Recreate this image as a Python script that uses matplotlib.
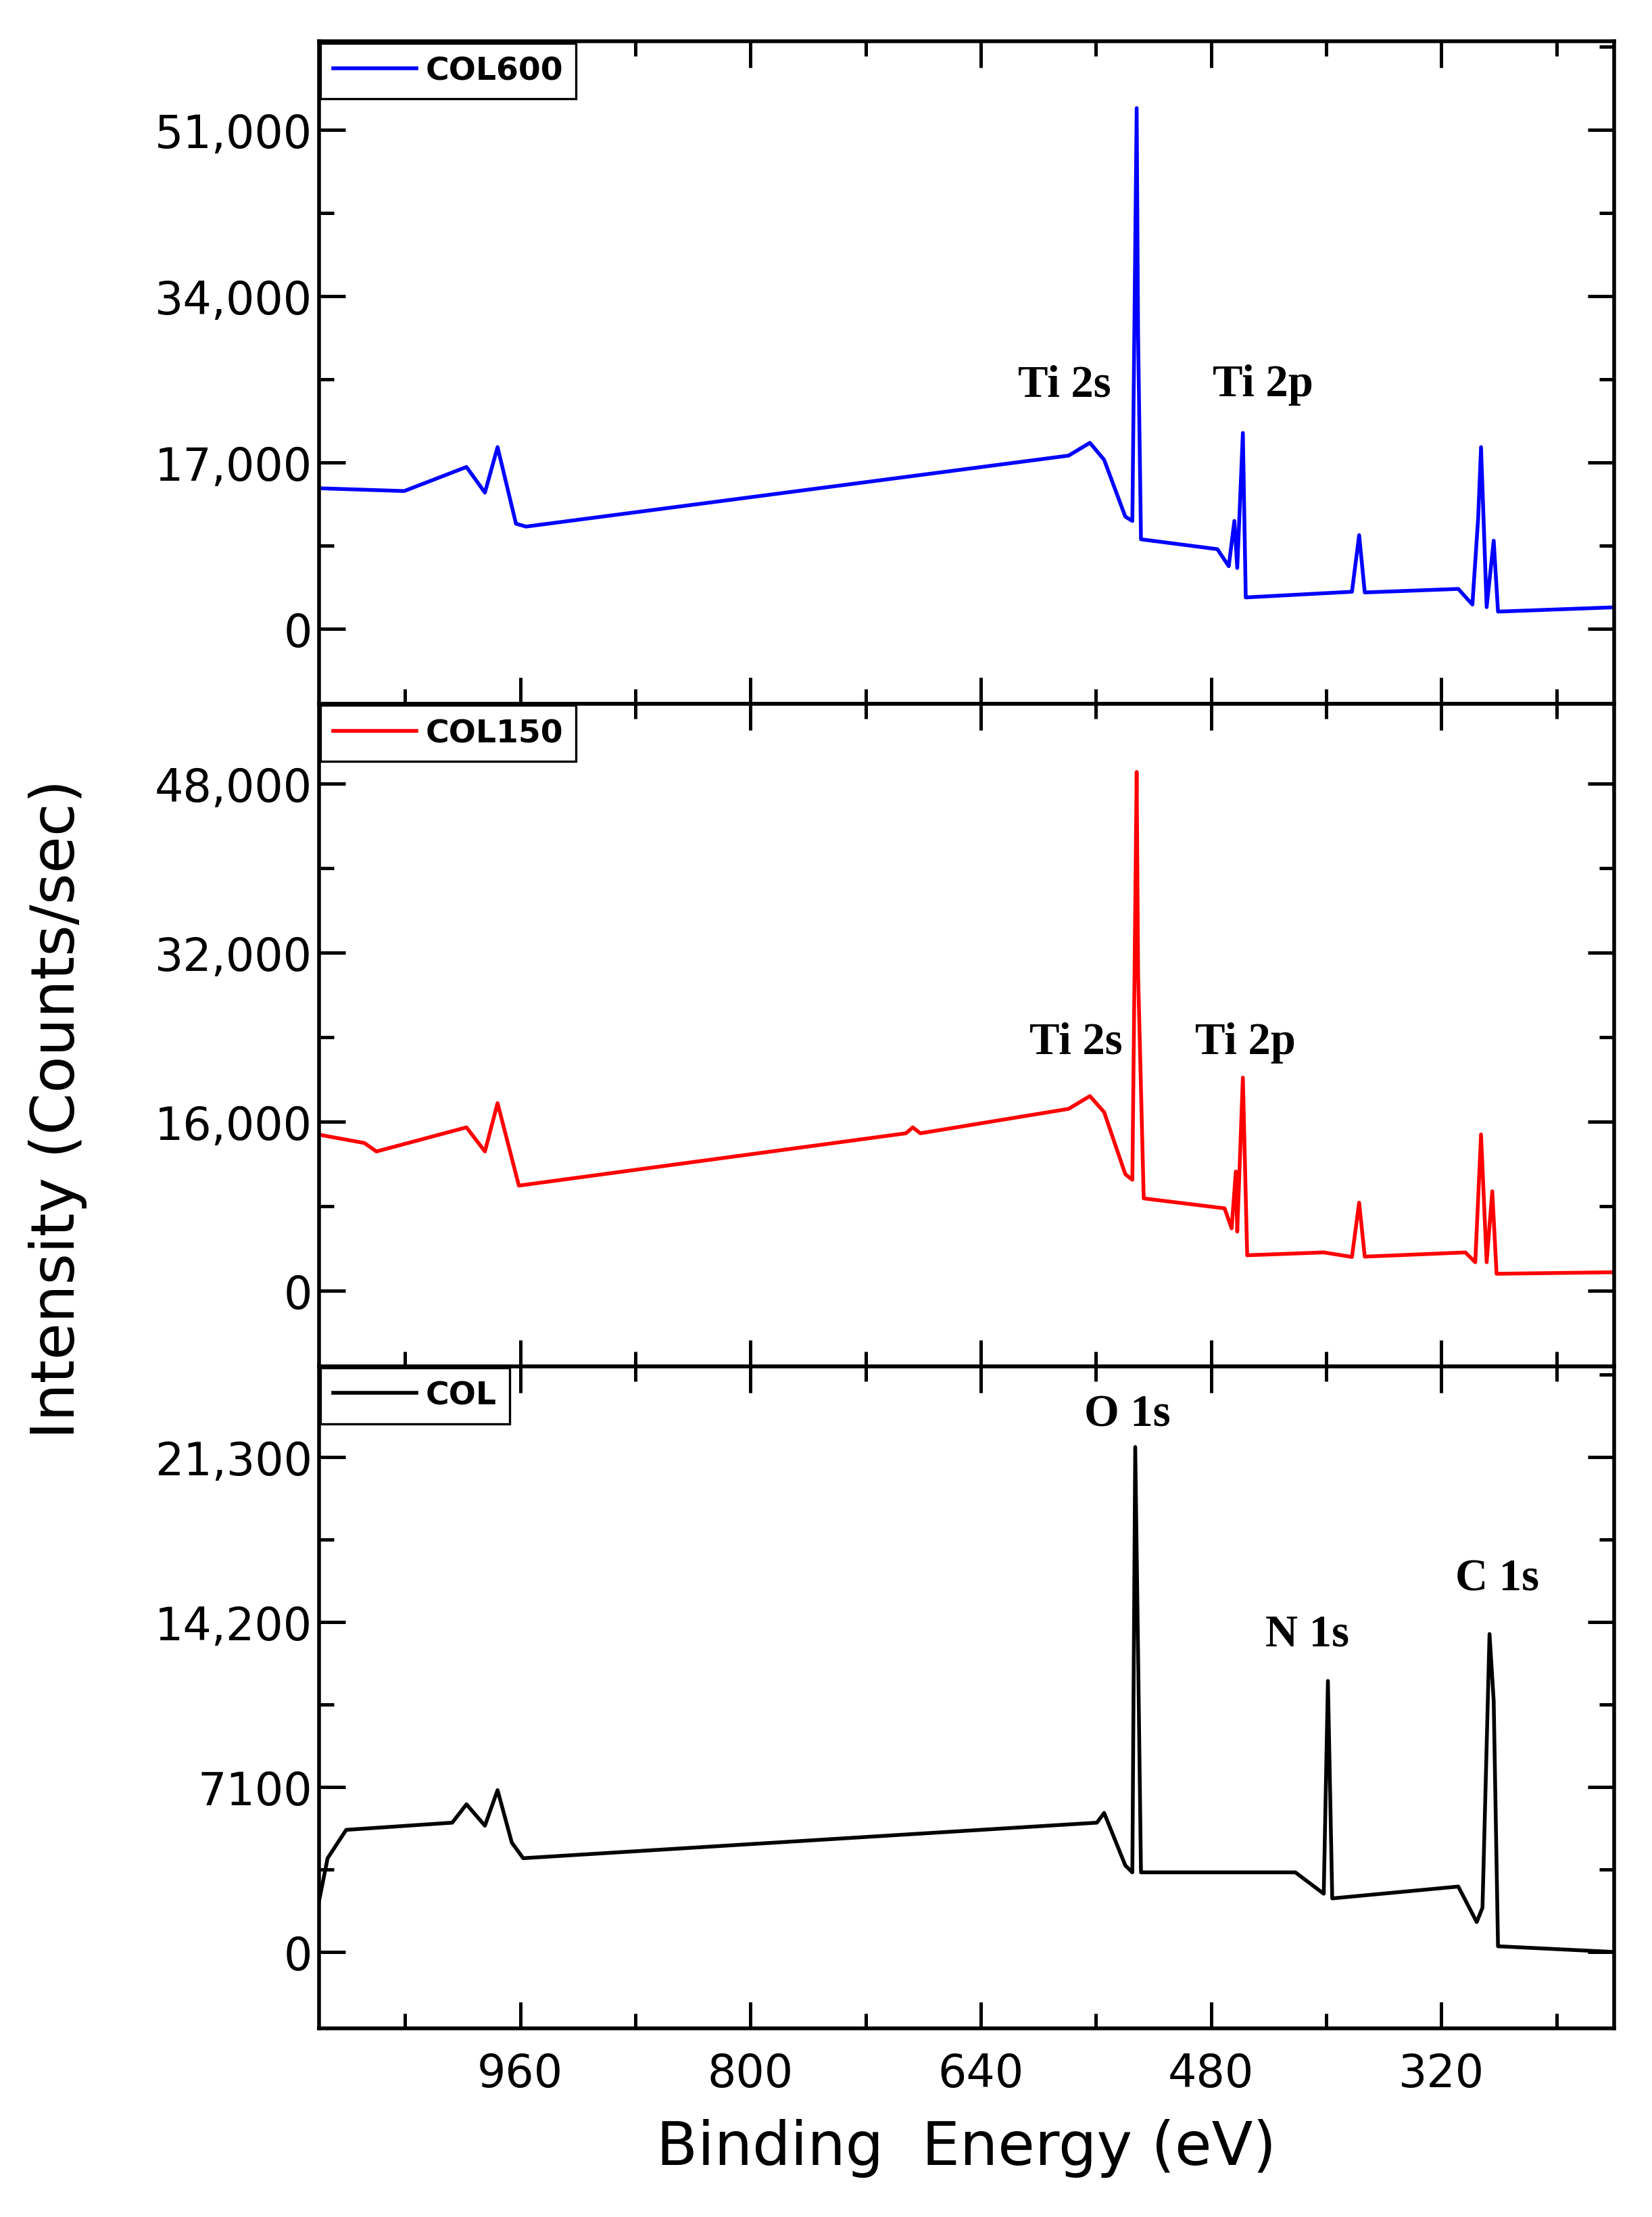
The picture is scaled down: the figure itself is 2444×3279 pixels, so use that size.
import matplotlib
matplotlib.use("Agg")
import matplotlib.pyplot as plt
from matplotlib.ticker import FixedLocator, MultipleLocator

# Survey spectra (binding energy eV, counts/sec)
be_col600 = [1100.8, 1040.7, 997.4, 984.6, 975.8, 963, 956, 579, 564.2, 554.3, 539.6, 534.7,
             531.7, 530.7, 528.7, 475.6, 467.7, 463.8, 461.8, 457.9, 455.9, 382.1, 377.1,
             373.2, 308.2, 298.4, 294.4, 292.4, 288.5, 283.6, 280.6, 201.9]
in_col600 = [14350, 14060, 16520, 13900, 18550, 10720, 10430, 17680, 18990, 17250, 11450, 11000,
             53190, 30000, 9130, 8120, 6380, 11010, 6200, 20000, 3190, 3770, 9560,
             3700, 4060, 2460, 11300, 18550, 2200, 8990, 1740, 2170]

be_col150 = [1100.8, 1068.3, 1060, 997.4, 984.6, 975.8, 961, 692, 687.3, 682, 579, 564.2,
             554.3, 539.6, 534.7, 531.7, 530.7, 526.8, 470.6, 465.7, 462.8, 461.8, 457.9,
             454.9, 401.7, 382.1, 377.1, 373.2, 303.3, 296.4, 292.4, 288.5, 284.6, 281.6, 201.9]
in_col150 = [14790, 13980, 13180, 15460, 13180, 17750, 9950, 14900, 15460, 14900, 17210, 18420,
             16900, 11030, 10500, 49080, 30000, 8740, 7800, 5900, 11290, 5600, 20170,
             3360, 3630, 3200, 8340, 3230, 3630, 2700, 14790, 2700, 9410, 1610, 1750]

be_col = [1100.8, 1093.9, 1081, 1007.3, 997.4, 984.6, 975.8, 965.9, 958, 559.3, 554.3, 539.6,
          534.7, 532.7, 530.7, 528.7, 421.4, 401.7, 398.8, 395.8, 308.2, 295.4, 291.4,
          286.5, 283.6, 280.6, 201.9]
in_col = [1890, 4030, 5250, 5560, 6350, 5430, 6960, 4700, 4030, 5560, 5980, 3720,
          3420, 21730, 12800, 3420, 3420, 2500, 11660, 2300, 2810, 1280, 1900,
          13680, 10800, 240, 0]

panels = [
    dict(x=be_col600, y=in_col600, color="#0000ff", name="COL600",
         ticks=[0, 17000, 34000, 51000], labels=["0", "17,000", "34,000", "51,000"],
         ylim=(-7680, 60000), minor=8500,
         notes=[("Ti 2s", 582, 24930), ("Ti 2p", 444, 24930)]),
    dict(x=be_col150, y=in_col150, color="#ff0000", name="COL150",
         ticks=[0, 16000, 32000, 48000], labels=["0", "16,000", "32,000", "48,000"],
         ylim=(-7130, 55530), minor=8000,
         notes=[("Ti 2s", 574, 23530), ("Ti 2p", 456, 23530)]),
    dict(x=be_col, y=in_col, color="black", name="COL",
         ticks=[0, 7100, 14200, 21300], labels=["0", "7100", "14,200", "21,300"],
         ylim=(-3300, 25210), minor=3550,
         notes=[("O 1s", 538, 23140), ("N 1s", 413, 13670), ("C 1s", 281, 16060)]),
]

fig = plt.figure(figsize=(12.22, 16.4), dpi=200)
axes = fig.subplots(3, 1, sharex=True)
fig.subplots_adjust(left=0.193, right=0.977, top=0.981, bottom=0.085, hspace=0)

for ax, p in zip(axes, panels):
    ax.plot(p["x"], p["y"], color=p["color"], lw=2.0, label=p["name"])
    ax.set_xlim(1100, 200)
    ax.set_ylim(*p["ylim"])
    ax.yaxis.set_major_locator(FixedLocator(p["ticks"]))
    ax.set_yticklabels(p["labels"])
    ax.yaxis.set_minor_locator(MultipleLocator(p["minor"]))
    ax.xaxis.set_major_locator(FixedLocator([960, 800, 640, 480, 320]))
    ax.xaxis.set_minor_locator(FixedLocator([1040, 880, 720, 560, 400, 240]))
    ax.tick_params(which="both", direction="in", top=True, right=True, width=1.8,
                   labelsize=24)
    ax.tick_params(which="major", length=14)
    ax.tick_params(which="minor", length=8)
    for s in ax.spines.values():
        s.set_linewidth(2)
    leg = ax.legend(loc="upper left", handlelength=2.6, handletextpad=0.3,
                    borderaxespad=0.05, fancybox=False, edgecolor="black", framealpha=1,
                    prop=dict(weight="bold", size=17))
    leg.get_frame().set_linewidth(1.2)
    for t, xe, yv in p["notes"]:
        ax.text(xe, yv, t, ha="center", va="center", fontsize=24, fontweight="bold",
                family="Liberation Serif")

axes[-1].set_xticklabels(["960", "800", "640", "480", "320"])
axes[-1].tick_params(axis="x", pad=12)
axes[-1].set_xlabel("Binding  Energy (eV)", fontsize=32, labelpad=12)
fig.text(0.035, 0.5, "Intensity (Counts/sec)", rotation=90, va="center", ha="center",
         fontsize=32)

fig.savefig("out.png", dpi=200)
